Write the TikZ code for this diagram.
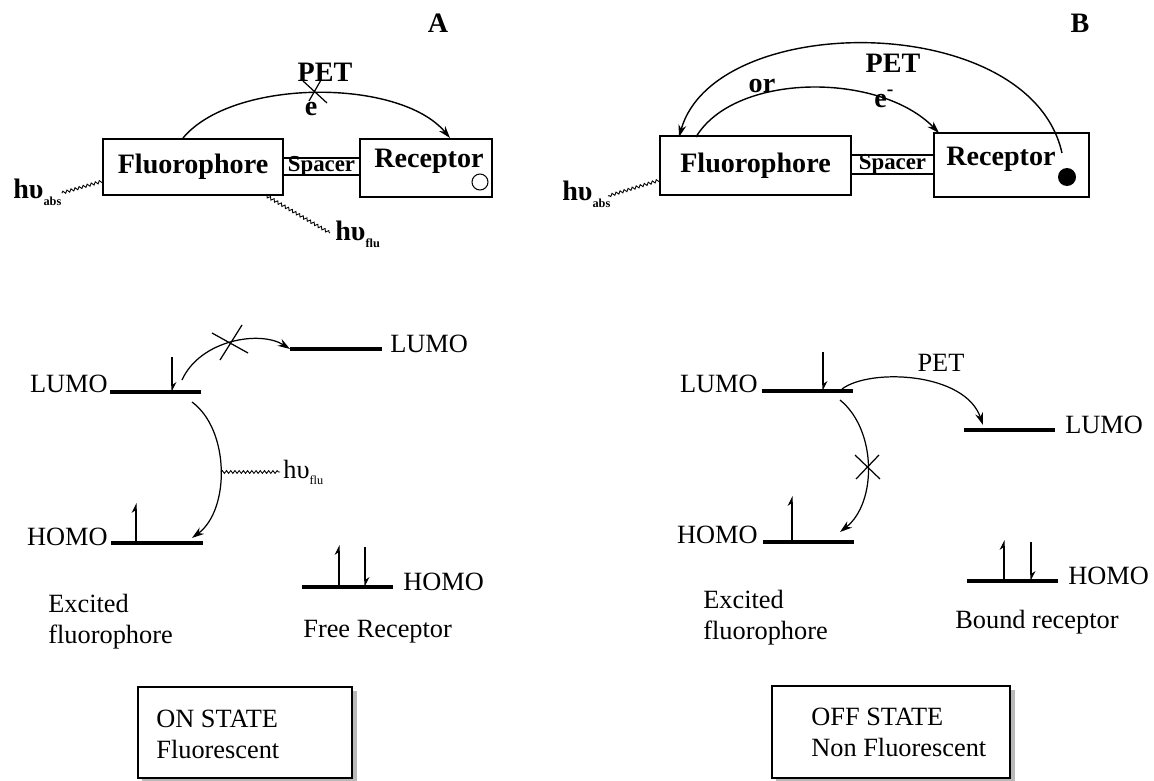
\documentclass[tikz,border=0pt]{standalone}
\usepackage{fontspec}
\setmainfont{Liberation Serif}
\usetikzlibrary{arrows.meta,decorations.pathmorphing}
\newcommand{\hnu}[1]{hυ\raisebox{-0.55ex}{\fontsize{7}{8}\selectfont #1}}

\begin{document}
\begin{tikzpicture}[x=0.02cm, y=-0.02cm,
  txt/.style={font=\fontsize{15}{17.6}\selectfont, inner sep=0},
  bold/.style={font=\fontsize{16}{19}\selectfont\bfseries, inner sep=0},
  spc/.style={font=\fontsize{13}{15}\selectfont\bfseries, inner sep=0},
  box/.style={draw, line width=0.8pt, inner sep=0},
  level/.style={line width=2.2pt},
  spin/.style={-{Stealth[harpoon,length=5pt,width=5pt]}, line width=0.6pt},
  wave/.style={decorate, decoration={snake, amplitude=0.8pt, segment length=2.4pt}, line width=0.5pt},
  arc/.style={-{Stealth[length=7pt,width=4.5pt]}, line width=0.8pt},
  cross/.style={line width=0.7pt}]
  \useasboundingbox (0,0) rectangle (1154,781);

  % A: free receptor
  \node[bold, anchor=base] (labA) at (438,32) {A};
  \node[box, bold, minimum width=3.6cm, minimum height=1.12cm] (fluA) at (193,167) {Fluorophore};
  \node[box, minimum width=1.54cm, minimum height=0.34cm] (spA) at (321.5,166.5) {};
  \node[spc] (spAt) at (spA) {Spacer};
  \node[box, minimum width=2.64cm, minimum height=1.16cm] (recA) at (426,168) {};
  \node[bold, anchor=base] (recAt) at (429,167) {Receptor};
  \node[draw, circle, fill=white, minimum size=0.32cm, inner sep=0, line width=0.6pt] (ionA) at (480,182) {};
  \coordinate (petA1) at (183,138);
  \coordinate (petA2) at (450,138);
  \draw[arc] (petA1) .. controls (233,78) and (400,78) .. (petA2);
  \coordinate (xA) at (315,92);
  \draw[cross] (xA) ++(-12,-11) -- ++(24,22) (xA) ++(6,-12) -- ++(-12,21);
  \node[bold, anchor=base] (petAt) at (325,81) {PET};
  \node[bold, anchor=base] (eA) at (311,115) {e};
  \node[bold, anchor=base west] (absA) at (13,198) {\hnu{abs}};
  \draw[wave] (103,181) -- (absA.east |- 0,193);
  \node[bold, anchor=base west] (emA) at (335,240) {\hnu{flu}};
  \draw[wave] (265,195) -- (330,233);

  % B: bound receptor
  \node[bold, anchor=base] (labB) at (1080,32) {B};
  \node[box, bold, minimum width=3.82cm, minimum height=1.18cm] (fluB) at (755.5,165.5) {Fluorophore};
  \node[box, minimum width=1.66cm, minimum height=0.38cm] (spB) at (892.5,164.5) {};
  \node[spc] (spBt) at (spB) {Spacer};
  \node[box, minimum width=3.1cm, minimum height=1.28cm] (recB) at (1011.5,165) {};
  \node[bold, anchor=base] (recBt) at (1001,165) {Receptor};
  \node[circle, fill, minimum size=0.36cm, inner sep=0] (ionB) at (1067,177) {};
  \coordinate (petB1) at (1062,153);
  \coordinate (petB2) at (679,137);
  \draw[arc] (petB1) .. controls (1030,10) and (715,10) .. (petB2);
  \coordinate (eB1) at (696,137);
  \coordinate (eB2) at (939,133);
  \draw[arc] (eB1) .. controls (735,72) and (880,72) .. (eB2);
  \node[bold, anchor=base] (petBt) at (893,72) {PET};
  \node[bold, anchor=base] (orB) at (762,92) {or};
  \node[bold, anchor=base west] (eB) at (874,107) {e\textsuperscript{-}};
  \node[bold, anchor=base west] (absB) at (562,200) {\hnu{abs}};
  \draw[wave] (660,180) -- (608,196);

  % orbital levels, A
  \coordinate (luA1) at (110,392); \coordinate (luA2) at (201,392);
  \coordinate (hoA1) at (111,543); \coordinate (hoA2) at (203,543);
  \coordinate (luR1) at (290,349); \coordinate (luR2) at (382,349);
  \coordinate (hoR1) at (302,587); \coordinate (hoR2) at (393,587);
  \draw[level] (luA1) -- (luA2) (hoA1) -- (hoA2) (luR1) -- (luR2) (hoR1) -- (hoR2);
  \draw[spin] (172,357) -- (172,392);
  \draw[spin] (136,543) -- (136,503);
  \draw[spin] (339,587) -- (339,545);
  \draw[spin] (365,547) -- (365,587);
  \node[txt, anchor=base east] (luAt) at (108,392) {LUMO};
  \node[txt, anchor=base east] (hoAt) at (108,545) {HOMO};
  \node[txt, anchor=base west] (luRt) at (390,352) {LUMO};
  \node[txt, anchor=base west] (hoRt) at (403,590) {HOMO};
  \coordinate (etA) at (182,380);
  \draw[arc, line width=0.7pt] (etA) .. controls (200,340) and (260,330) .. (luR1);
  \draw[cross] (212,333) -- (248,353) (242,325) -- (220,360);
  \coordinate (fA1) at (192,402);
  \coordinate (fA2) at (192,538);
  \draw[arc, line width=0.7pt] (fA1) .. controls (230,430) and (230,510) .. (fA2);
  \draw[wave] (221,472) -- (280,472);
  \node[txt, anchor=base west] (flA) at (283,478) {\hnu{flu}};
  \node[txt, anchor=north west, align=left] (exA) at (48,594) {Excited\\fluorophore};
  \node[txt, anchor=base west] (frA) at (303,637) {Free Receptor};

  % orbital levels, B
  \coordinate (luB1) at (762,391); \coordinate (luB2) at (853,391);
  \coordinate (hoB1) at (763,542); \coordinate (hoB2) at (854,542);
  \coordinate (luS1) at (964,430); \coordinate (luS2) at (1055,430);
  \coordinate (hoS1) at (967,581); \coordinate (hoS2) at (1058,581);
  \draw[level] (luB1) -- (luB2) (hoB1) -- (hoB2) (luS1) -- (luS2) (hoS1) -- (hoS2);
  \draw[spin] (823,352) -- (823,391);
  \draw[spin] (792,542) -- (792,496);
  \draw[spin] (1004,581) -- (1004,540);
  \draw[spin] (1031,542) -- (1031,581);
  \node[txt, anchor=base east] (luBt) at (758,392) {LUMO};
  \node[txt, anchor=base east] (hoBt) at (758,543) {HOMO};
  \node[txt, anchor=base west] (luSt) at (1065,433) {LUMO};
  \node[txt, anchor=base west] (hoSt) at (1068,584) {HOMO};
  \coordinate (etB1) at (842,389);
  \coordinate (etB2) at (983,425);
  \draw[arc, line width=0.7pt] (etB1) .. controls (870,368) and (965,372) .. (etB2);
  \node[txt, anchor=base] (petBl) at (941,371) {PET};
  \coordinate (fB1) at (840,400);
  \coordinate (fB2) at (840,532);
  \draw[arc, line width=0.7pt] (fB1) .. controls (877,430) and (877,503) .. (fB2);
  \draw[cross] (855,455) -- (880,479) (879,455) -- (856,479);
  \node[txt, anchor=north west, align=left] (exB) at (703,590) {Excited\\fluorophore};
  \node[txt, anchor=base west] (bdB) at (955,628) {Bound receptor};

  % states
  \fill[gray!55] (142,691) rectangle (357,782);
  \node[box, fill=white, minimum width=4.28cm, minimum height=1.82cm] (onS) at (245,732.5) {};
  \node[txt, anchor=north west, align=left] (onT) at (156,710) {ON STATE\\Fluorescent};
  \fill[gray!55] (776,690) rectangle (1015,782);
  \node[box, fill=white, minimum width=4.76cm, minimum height=1.84cm] (offS) at (891,732) {};
  \node[txt, anchor=north west, align=left] (offT) at (811,708) {OFF STATE\\Non Fluorescent};
\end{tikzpicture}
\end{document}
